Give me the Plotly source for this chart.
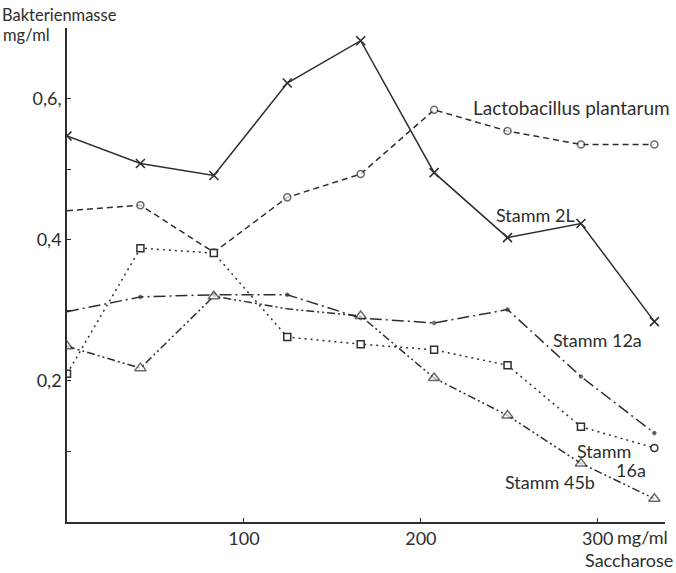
import plotly.graph_objects as go

saccharose = [0, 41.5, 83, 124.5, 166, 207.5, 249, 290.5, 332]
stamm_2L = [0.547, 0.508, 0.491, 0.622, 0.682, 0.495, 0.403, 0.423, 0.284]
lacto = [0.441, 0.449, 0.382, 0.460, 0.493, 0.584, 0.554, 0.535, 0.535]
stamm_16a = [0.210, 0.388, 0.381, 0.262, 0.252, 0.244, 0.222, 0.135, 0.105]
stamm_12a = [0.298, 0.319, 0.322, 0.322, 0.289, 0.282, 0.301, 0.206, 0.126]
stamm_45b = [0.249, 0.218, 0.320, 0.302, 0.292, 0.204, 0.151, 0.083, 0.033]

y_tickvals = [0.1, 0.2, 0.3, 0.4, 0.5, 0.6]
y_ticktext = ["", "0,2", "", "0,4", "", "0,6,"]
x_tickvals = [100, 200, 300]
x_ticktext = ["100", "200", "300"]

INK = "#2e2e2e"
FONT = "Lato"

fig = go.Figure()

def add(y, dash, symbol, size, sizes=None, symbols=None, mlw=1.3, fill=INK):
    fig.add_trace(go.Scatter(
        x=saccharose, y=y, mode="lines+markers",
        line=dict(color=INK, width=1.5, dash=dash),
        marker=dict(symbol=symbols if symbols else symbol,
                    size=sizes if sizes else size,
                    color=fill,
                    line=dict(color=INK, width=mlw)),
        showlegend=False, hoverinfo="skip"))

add(stamm_2L, "solid", "x-thin", 9, mlw=1.6)
add(lacto, "6px,4px", "circle", 7, sizes=[0, 7, 7, 7, 7, 7, 7, 7, 7], mlw=1.5, fill="white")
add(stamm_16a, "2px,4px", "square", 7,
    symbols=["square"] * 8 + ["circle"], mlw=1.5, fill="white")
add(stamm_12a, "12px,4px,2px,4px", "circle", 4, sizes=[0, 4, 4, 4, 4, 4, 4, 4, 4], mlw=0.5)
add(stamm_45b, "8px,3px,2px,3px,2px,3px", "triangle-up", 10,
    sizes=[10, 10, 10, 0, 10, 10, 10, 10, 10], mlw=1.5, fill="white")

def label(text, x, y, size=18, xanchor="center", xref="x", yref="y"):
    fig.add_annotation(text=text, x=x, y=y, xref=xref, yref=yref,
                       showarrow=False, xanchor=xanchor, yanchor="middle",
                       font=dict(family=FONT, size=size, color=INK))

label("Lactobacillus plantarum", 285.3, 0.588, size=19)
label("Stamm 2L", 265, 0.435)
label("Stamm 12a", 300, 0.258)
label("Stamm", 303.4, 0.1006)
label("16a", 318.6, 0.0737)
label("Stamm 45b", 272.9, 0.0567)

# axis captions
label("Bakterienmasse", -67 / 598, 1 + 13 / 494, size=16.5, xanchor="left", xref="paper", yref="paper")
label("mg/ml", -66 / 598, 1 - 7 / 494, size=16.5, xanchor="left", xref="paper", yref="paper")
label("mg/ml", 310, -15 / 494, size=18, xanchor="left", xref="x", yref="paper")
label("Saccharose", 1 + 10 / 598, -38 / 494, size=18, xanchor="right", xref="paper", yref="paper")

fig.update_layout(
    width=676, height=573,
    margin=dict(l=67, r=11, t=28, b=51),
    paper_bgcolor="white", plot_bgcolor="white",
    font=dict(family=FONT, size=18, color=INK),
    xaxis=dict(range=[0, 338], showgrid=False, zeroline=False,
               showline=True, linecolor=INK, linewidth=1.6,
               tickvals=x_tickvals, ticktext=x_ticktext,
               ticks="inside", ticklen=4, tickcolor=INK,
               tickfont=dict(family=FONT, size=18, color=INK)),
    yaxis=dict(range=[0, 0.70], showgrid=False, zeroline=False,
               showline=True, linecolor=INK, linewidth=1.6,
               tickvals=y_tickvals, ticktext=y_ticktext,
               ticks="inside", ticklen=4, tickcolor=INK,
               tickfont=dict(family=FONT, size=18, color=INK)),
)

fig.write_html("out.html", config={"displayModeBar": False},
               post_script="document.body.style.margin='0';")
